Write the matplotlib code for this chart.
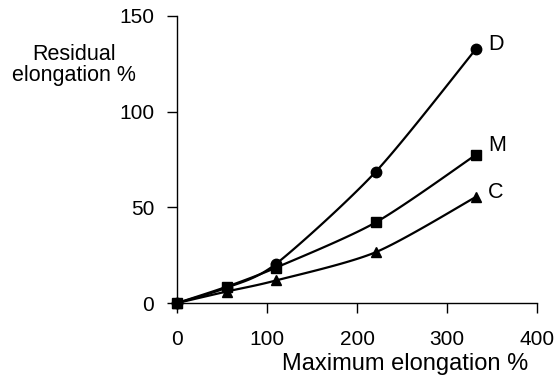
import numpy as np
import matplotlib
matplotlib.use("Agg")
import matplotlib.pyplot as plt

plt.rcParams["font.family"] = ["Liberation Sans", "DejaVu Sans"]

max_elong = [0, 55, 110, 221, 332]
series_d = [0, 8, 20.5, 68.7, 132.6]
series_m = [0, 8.5, 18.5, 42.2, 77.4]
series_c = [0, 6, 11.8, 26.6, 55.4]
labels = ["D", "M", "C"]
markers = ["o", "s", "^"]


def smooth(x, y, n=30, k=0.8):
    # cardinal spline through the points (spreadsheet-style smoothed line)
    x = np.asarray(x, float)
    y = np.asarray(y, float)
    px = np.concatenate([[x[0]], x, [x[-1]]])
    py = np.concatenate([[y[0]], y, [y[-1]]])
    xs, ys = [], []
    t = np.linspace(0, 1, n)
    h00 = 2 * t**3 - 3 * t**2 + 1
    h10 = t**3 - 2 * t**2 + t
    h01 = -2 * t**3 + 3 * t**2
    h11 = t**3 - t**2
    for i in range(1, len(px) - 2):
        for p, out in ((px, xs), (py, ys)):
            m1 = k * 0.5 * (p[i + 1] - p[i - 1])
            m2 = k * 0.5 * (p[i + 2] - p[i])
            out.extend(h00 * p[i] + h10 * m1 + h01 * p[i + 1] + h11 * m2)
    return xs, ys


fig = plt.figure(figsize=(5.57, 3.88), dpi=100)
ax = fig.add_axes([0.318, 0.219, 0.646, 0.74])

offsets = [(9, 3.5), (9, 7), (9, 3.5)]
sizes = [7.5, 6.5, 7.5]
for ys, lab, mk, off, ms in zip([series_d, series_m, series_c], labels,
                                markers, offsets, sizes):
    sx, sy = smooth(max_elong, ys)
    ax.plot(sx, sy, color="black", lw=1.6, zorder=2)
    ax.plot(max_elong, ys, ls="none", marker=mk, color="black",
            markersize=ms, zorder=3, clip_on=False)
    ax.annotate(lab, (max_elong[-1], ys[-1]), xytext=off,
                textcoords="offset points", fontsize=15.5, va="center")

ax.set_xlim(0, 400)
ax.set_ylim(0, 150)
ax.set_xticks([0, 100, 200, 300, 400])
ax.set_yticks([0, 50, 100, 150])
ax.spines["top"].set_visible(False)
ax.spines["right"].set_visible(False)
for s in ("left", "bottom"):
    ax.spines[s].set_linewidth(1.0)
ax.tick_params(direction="out", length=7.5, width=1.0, labelsize=15)
ax.tick_params(axis="x", pad=12)
ax.tick_params(axis="y", pad=9)

fig.text(0.133, 0.887, "Residual\nelongation %", fontsize=15.5,
         ha="center", va="top", multialignment="center", linespacing=1.0)
fig.text(0.948, 0.062, "Maximum elongation %", fontsize=17,
         ha="right", va="center")

fig.savefig("out.png", dpi=100)
